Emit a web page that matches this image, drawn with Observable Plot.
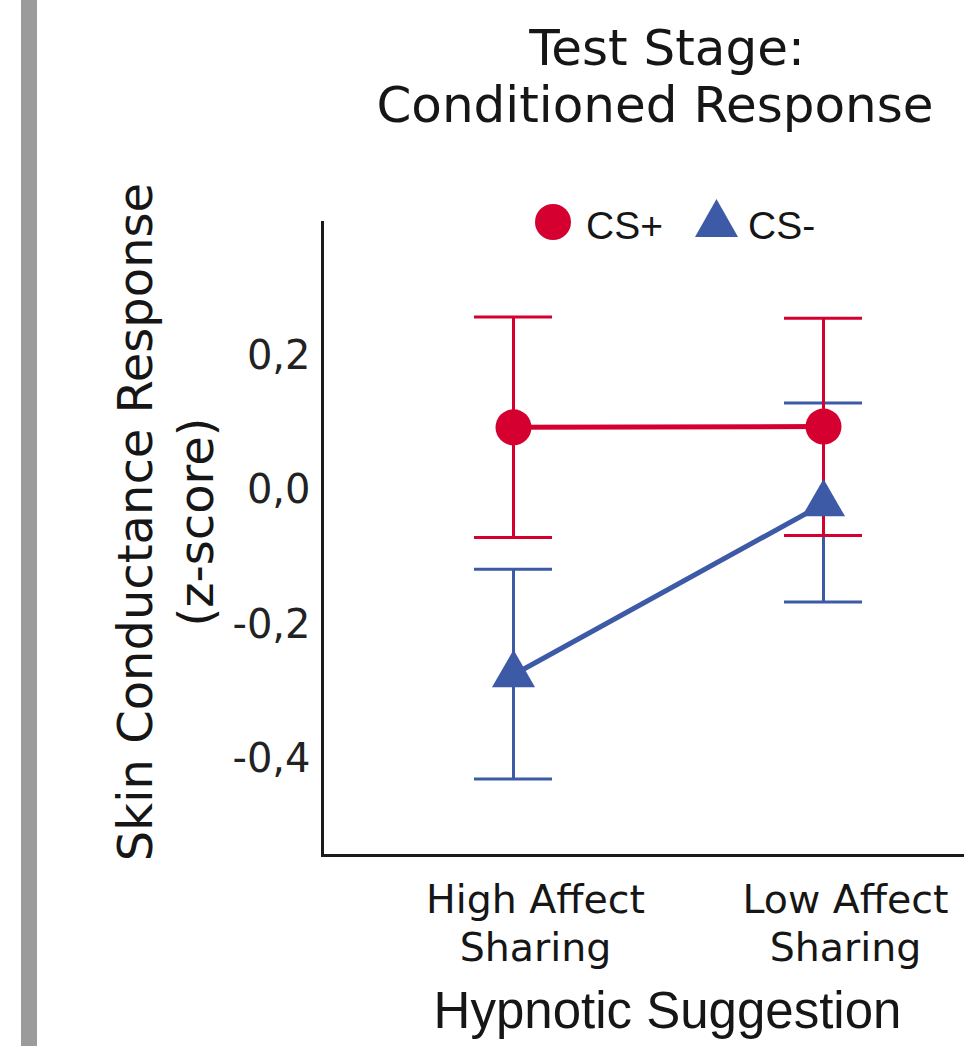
<!DOCTYPE html>
<html>
<head>
<meta charset="utf-8">
<script src="https://cdn.jsdelivr.net/npm/d3@7"></script>
<script src="https://cdn.jsdelivr.net/npm/@observablehq/plot@0.6"></script>
<style>
  html, body { margin: 0; padding: 0; background: #fff; overflow: hidden; }
  #page { position: relative; width: 964px; height: 1046px; }
  #page svg.plot { position: absolute; left: 0; top: 0; }
  .bar { position: absolute; left: 21px; top: 0; width: 16px; height: 1046px; background: #9b9b9b; }
  .t { position: absolute; white-space: nowrap; color: #161616; }
  .title { font-family: "DejaVu Sans", sans-serif; font-size: 50px; line-height: 50px; text-align: center; width: 700px; }
  .ylab { font-family: "DejaVu Sans", sans-serif; font-size: 48px; line-height: 61px; text-align: center; width: 800px; height: 122px; transform: rotate(-90deg); transform-origin: 50% 50%; }
  .leg { font-family: "Liberation Sans", Arial, sans-serif; font-size: 39px; line-height: 39px; }
  .xlab { font-family: "Liberation Sans", Arial, sans-serif; font-size: 51px; line-height: 51px; text-align: center; width: 700px; }
  .sym { position: absolute; left: 0; top: 0; }
</style>
</head>
<body>
<div id="page">
  <div class="bar"></div>
</div>
<script>
// ---- data ----
const conditions = ["High Affect Sharing", "Low Affect Sharing"];
const csPlusMean  = [0.094, 0.095];
const csPlusLower = [-0.070, -0.067];
const csPlusUpper = [0.258, 0.256];
const csMinusMean  = [-0.274, -0.020];
const csMinusLower = [-0.429, -0.166];
const csMinusUpper = [-0.117, 0.130];
const yTicks = [0.2, 0.0, -0.2, -0.4];
const seriesNames = ["CS+", "CS-"];
const seriesColors = ["#d5002f", "#3d5aa7"];

const titleLines = ["Test Stage:", "Conditioned Response"];
const yLabelLines = ["Skin Conductance Response", "(z-score)"];
const xLabel = "Hypnotic Suggestion";

// ---- build tables ----
const plus = conditions.map((c, i) => ({cond: c, mean: csPlusMean[i], lo: csPlusLower[i], hi: csPlusUpper[i]}));
const minus = conditions.map((c, i) => ({cond: c, mean: csMinusMean[i], lo: csMinusLower[i], hi: csMinusUpper[i]}));

const red = seriesColors[0], blue = seriesColors[1];
const fmt = d => (d < 0 ? "-" : "") + Math.abs(d).toFixed(1).replace(".", ",");

const errMarks = (data, color) => [
  Plot.ruleX(data, {x: "cond", y1: "lo", y2: "hi", stroke: color, strokeWidth: 3}),
  Plot.ruleY(data, {x1: "cond", x2: "cond", y: "lo", stroke: color, strokeWidth: 3, insetLeft: -39, insetRight: -39}),
  Plot.ruleY(data, {x1: "cond", x2: "cond", y: "hi", stroke: color, strokeWidth: 3, insetLeft: -39, insetRight: -39})
];

const chart = Plot.plot({
  width: 964,
  height: 1046,
  marginTop: 222,
  marginBottom: 191,
  marginLeft: 322,
  marginRight: 0,
  style: {fontFamily: "DejaVu Sans, sans-serif", color: "#161616", background: "transparent", overflow: "visible"},
  x: {type: "point", domain: conditions, padding: 0.534, align: 0.576},
  y: {domain: [-0.5428, 0.3985]},
  marks: [
    ...errMarks(minus, blue),
    ...errMarks(plus, red),
    Plot.line(plus, {x: "cond", y: "mean", stroke: red, strokeWidth: 5}),
    Plot.dot(plus, {x: "cond", y: "mean", r: 18, fill: red, symbol: "circle"}),
    Plot.line(minus, {x: "cond", y: "mean", stroke: blue, strokeWidth: 5}),
    Plot.dot(minus, {x: "cond", y: "mean", r: 16, fill: blue, symbol: "triangle"}),
    Plot.axisY({ticks: yTicks, tickSize: 0, tickPadding: 12, tickFormat: fmt, fontSize: 40, label: null, fill: "#222"}),
    Plot.axisX({tickSize: 0, tickPadding: 24, fontSize: 39.5, lineHeight: 1.2, dx: 22, label: null, fill: "#161616",
      tickFormat: d => d.replace(" Sharing", "\nSharing")}),
    Plot.frame({anchor: "left", stroke: "#1a1a1a", strokeWidth: 3}),
    Plot.frame({anchor: "bottom", stroke: "#1a1a1a", strokeWidth: 3})
  ]
});
chart.classList.add("plot");
const page = document.getElementById("page");
page.appendChild(chart);

function addText(cls, text, left, top, extra) {
  const d = document.createElement("div");
  d.className = "t " + cls;
  d.textContent = text;
  d.style.left = left + "px";
  d.style.top = top + "px";
  if (extra) Object.assign(d.style, extra);
  page.appendChild(d);
  return d;
}

// title (two lines)
addText("title", titleLines[0], 667 - 350, 22.5);
addText("title", titleLines[1], 655 - 350, 79.5);

// y label (rotated, two lines)
const yl = document.createElement("div");
yl.className = "t ylab";
yl.style.left = (166 - 400) + "px";
yl.style.top = (522 - 61) + "px";
yl.style.whiteSpace = "normal";
yl.innerHTML = yLabelLines.map(s => `<div>${s}</div>`).join("");
page.appendChild(yl);

// x label
addText("xlab", xLabel, 667.5 - 350, 984.5);

// legend
const ns = "http://www.w3.org/2000/svg";
const sym = document.createElementNS(ns, "svg");
sym.setAttribute("class", "sym");
sym.setAttribute("width", 964);
sym.setAttribute("height", 300);
sym.innerHTML = `<circle cx="553" cy="222" r="18" fill="${red}"/>` +
  `<polygon points="716.5,199 695,237 738,237" fill="${blue}"/>`;
page.appendChild(sym);
addText("leg", seriesNames[0], 586, 206);
addText("leg", seriesNames[1], 748, 206);
</script>
</body>
</html>
